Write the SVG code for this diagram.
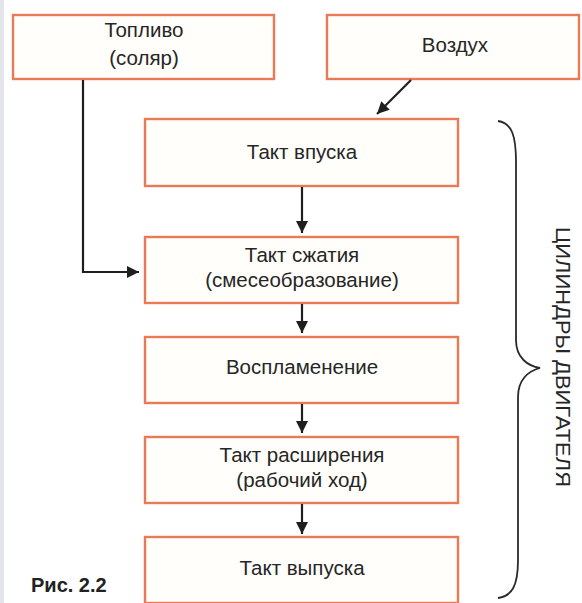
<svg xmlns="http://www.w3.org/2000/svg" width="582" height="603" viewBox="0 0 582 603">
<style>
.box{fill:#fffefb;stroke:#ea7a55;stroke-width:2.4}
.t{font-family:"Liberation Sans",Arial,sans-serif;font-size:20.5px;fill:#262626;text-anchor:middle}
.ln{fill:none;stroke:#1e1e1e;stroke-width:2.2}
</style>
<defs>
<marker id="ah" viewBox="0 0 10 10" refX="10" refY="5" markerWidth="13" markerHeight="12" markerUnits="userSpaceOnUse" orient="auto">
<path d="M0,0 L10,5 L0,10 Z" fill="#1e1e1e"/>
</marker>
</defs>
<rect x="0" y="0" width="582" height="603" fill="#ffffff"/>
<rect x="0" y="0" width="4" height="603" fill="#e4e5ea"/>
<g id="fuel"><rect class="box" x="13" y="15" width="261" height="64"/><text class="t" x="144" y="37">Топливо</text><text class="t" x="144" y="65">(соляр)</text></g>
<g id="air"><rect class="box" x="327" y="15" width="252" height="64"/><text class="t" x="455" y="52">Воздух</text></g>
<g id="intake"><rect class="box" x="145" y="119" width="313" height="67"/><text class="t" x="302" y="159">Такт впуска</text></g>
<g id="compression"><rect class="box" x="145" y="237" width="313" height="66"/><text class="t" x="302" y="262">Такт сжатия</text><text class="t" x="302" y="287">(смесеобразование)</text></g>
<g id="ignition"><rect class="box" x="145" y="337" width="313" height="66"/><text class="t" x="302" y="374">Воспламенение</text></g>
<g id="expansion"><rect class="box" x="145" y="437" width="313" height="66"/><text class="t" x="302" y="462">Такт расширения</text><text class="t" x="302" y="487">(рабочий ход)</text></g>
<g id="exhaust"><rect class="box" x="145" y="537" width="313" height="66"/><text class="t" x="302" y="575">Такт выпуска</text></g>
<g id="connectors">
<path class="ln" d="M411,80 L377,114" marker-end="url(#ah)"/>
<path class="ln" d="M302,187 L302,233" marker-end="url(#ah)"/>
<path class="ln" d="M302,304 L302,333" marker-end="url(#ah)"/>
<path class="ln" d="M302,404 L302,433" marker-end="url(#ah)"/>
<path class="ln" d="M302,504 L302,534" marker-end="url(#ah)"/>
<path class="ln" d="M83,80 L83,272 L139,272" marker-end="url(#ah)"/>
</g>
<g id="brace">
<path d="M498,121 C512,123 516,136 516,162 L516,340 C516,358 528,366 540,368 C528,371 518,380 518,397 L518,560 C518,586 512,596 498,598" fill="none" stroke="#2a2a2a" stroke-width="1.8"/>
<text x="357" y="-556" transform="rotate(90)" font-family="Liberation Sans,Arial,sans-serif" font-size="21" fill="#262626" text-anchor="middle" textLength="260" lengthAdjust="spacingAndGlyphs">ЦИЛИНДРЫ ДВИГАТЕЛЯ</text>
</g>
<text x="31" y="592" font-family="Liberation Sans,Arial,sans-serif" font-size="20" font-weight="bold" fill="#222">Рис. 2.2</text>
</svg>
